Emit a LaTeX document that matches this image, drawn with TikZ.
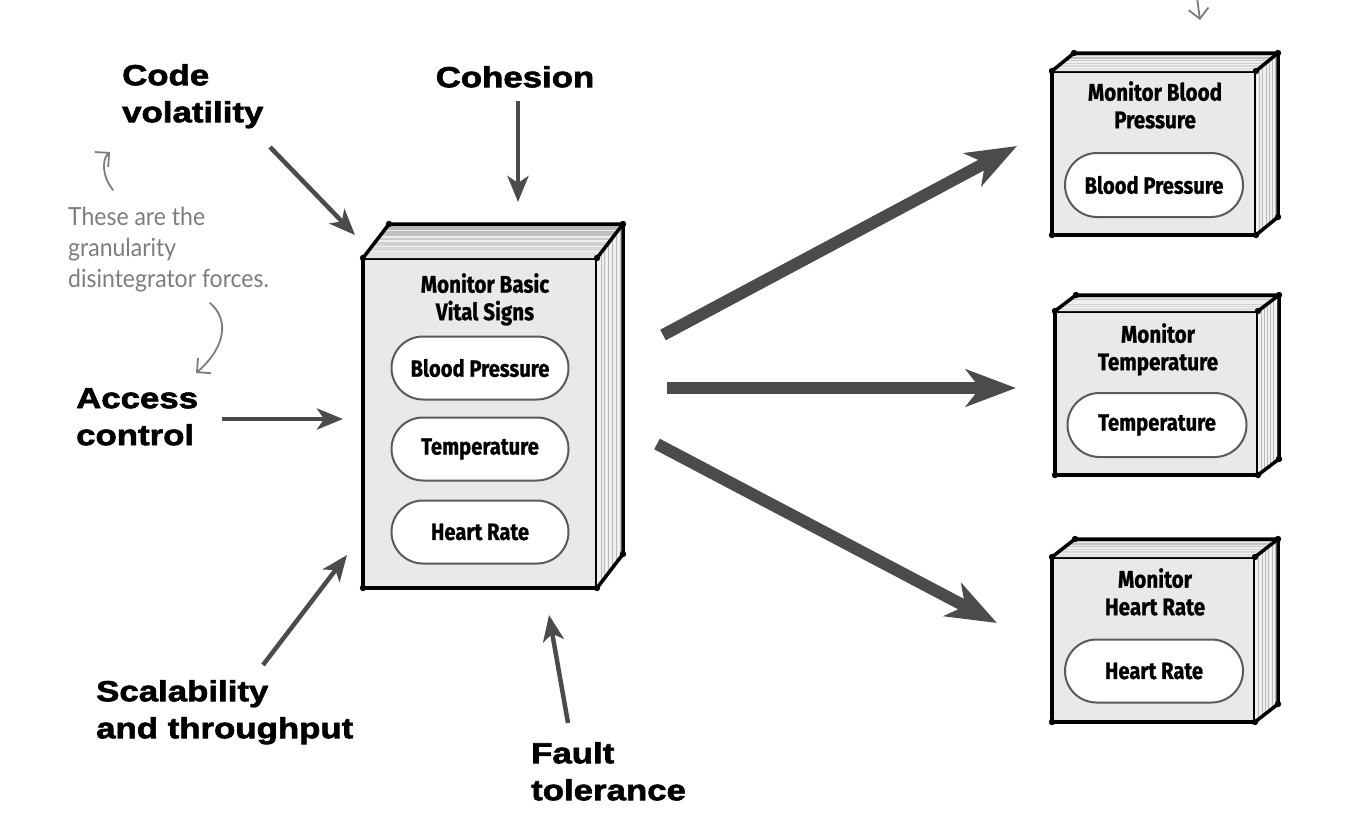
\documentclass[tikz,border=0pt]{standalone}
\usepackage{fontspec}
\setmainfont{Liberation Sans}
\newfontfamily\heavy{Liberation Sans}[FakeStretch=1.2,BoldFeatures={FakeBold=2.2}]
\newfontfamily\hand{Fira Sans}[FakeStretch=0.86,BoldFeatures={FakeBold=0.8}]
\newfontfamily\notefont{Lato}[FakeStretch=0.92]
\usetikzlibrary{arrows.meta,calc}
\definecolor{arrowgray}{HTML}{4B4B4D}
\definecolor{notegray}{HTML}{7D7D7D}
\definecolor{facegray}{HTML}{E9E9E9}
\definecolor{pillline}{HTML}{5A5A5A}
\tikzset{
  boxline/.style={draw=black,line width=3.5pt,line join=round},
  modfront/.style={boxline,fill=facegray,inner sep=0pt,outer sep=0pt},
  pill/.style={draw=pillline,line width=2pt,fill=white,inner sep=0pt,outer sep=0pt,
    font=\hand\bfseries\fontsize{23.5}{27}\selectfont},
  boxtitle/.style={font=\hand\bfseries\fontsize{24}{27.5}\selectfont,align=center,inner sep=0pt,anchor=north},
  lbl/.style={font=\heavy\bfseries\fontsize{29}{37}\selectfont,align=left,inner sep=0pt,anchor=north west},
  notetext/.style={font=\notefont\fontsize{25}{31}\selectfont,text=notegray,align=left,inner sep=0pt,anchor=north west},
  force/.style={draw=arrowgray,line width=4.5pt,-{Stealth[length=26pt,width=21pt,inset=7pt]}},
  splitarrow/.style={draw=arrowgray,line width=12pt,-{Stealth[length=50pt,width=37pt,inset=14pt]}},
  notearrow/.style={draw=notegray,line width=1.8pt,line cap=round,-{Straight Barb[length=10pt,width=20pt]}},
}
\newcommand{\modfaces}[3]{%
  \shade[top color=gray!60,bottom color=gray!18] (#1.north west) -- ++(#2,#3) -- ($(#1.north east)+(#2,#3)$) -- (#1.north east) -- cycle;
  \foreach \t in {0.2,0.35,0.5,0.62,0.8}{
    \draw[white,line width=1.2pt,opacity=0.7] ($(#1.north west)!\t!($(#1.north west)+(#2,#3)$)$) -- ($(#1.north east)!\t!($(#1.north east)+(#2,#3)$)$);
  }
  \fill[gray!12] (#1.north east) -- ++(#2,#3) -- ($(#1.south east)+(#2,#3)$) -- (#1.south east) -- cycle;
  \foreach \t in {0.15,0.3,0.45,0.6,0.75,0.9}{
    \draw[gray!55,line width=0.7pt] ($(#1.north east)!\t!($(#1.north east)+(#2,#3)$)$) -- ($(#1.south east)!\t!($(#1.south east)+(#2,#3)$)$);
  }
  \draw[boxline] (#1.north west) -- ++(#2,#3) -- ($(#1.north east)+(#2,#3)$) -- ($(#1.south east)+(#2,#3)$) -- (#1.south east);
  \draw[boxline] (#1.north east) -- ++(#2,#3);
  \foreach \c in {north west,north east,south west,south east}{\fill (#1.\c) circle (3.2pt);}
  \fill ($(#1.north west)+(#2,#3)$) circle (3.2pt);
  \fill ($(#1.north east)+(#2,#3)$) circle (3.2pt);
  \fill ($(#1.south east)+(#2,#3)$) circle (3.2pt);
}
\begin{document}
\begin{tikzpicture}[x=1pt,y=-1pt]
\fill[white] (0,0) rectangle (1346,820);
\useasboundingbox (0,0) rectangle (1346,820);

% main module
\node[modfront,minimum width=234pt,minimum height=330pt] (main) at (480,423) {};
\modfaces{main}{26}{-34}
\node[boxtitle] (maintitle) at (485,273) {Monitor Basic\\Vital Signs};
\node[pill,minimum width=177pt,minimum height=63pt,rounded corners=31.5pt] (mbp) at (480,368) {Blood Pressure};
\node[pill,minimum width=177pt,minimum height=63pt,rounded corners=31.5pt] (mtemp) at (480,449) {Temperature};
\node[pill,minimum width=177pt,minimum height=63pt,rounded corners=31.5pt] (mhr) at (480,532) {Heart Rate};

% blood pressure module
\node[modfront,minimum width=204pt,minimum height=164pt] (bp) at (1154,153) {};
\modfaces{bp}{22}{-18}
\node[boxtitle] (bptitle) at (1155,81) {Monitor Blood\\Pressure};
\node[pill,minimum width=178pt,minimum height=64pt,rounded corners=32pt] (bppill) at (1154,185) {Blood Pressure};

% temperature module
\node[modfront,minimum width=203pt,minimum height=164pt] (temp) at (1156.5,393) {};
\modfaces{temp}{21}{-16}
\node[boxtitle] (temptitle) at (1158,323) {Monitor\\Temperature};
\node[pill,minimum width=179pt,minimum height=64pt,rounded corners=32pt] (temppill) at (1157,425) {Temperature};

% heart rate module
\node[modfront,minimum width=203pt,minimum height=165pt] (hr) at (1153.5,639.5) {};
\modfaces{hr}{23}{-18}
\node[boxtitle] (hrtitle) at (1155,568) {Monitor\\Heart Rate};
\node[pill,minimum width=178pt,minimum height=63pt,rounded corners=31.5pt] (hrpill) at (1154,671) {Heart Rate};

% force labels
\node[lbl] (code) at (122,64) {Code\\volatility};
\node[lbl,anchor=north] (coh) at (515,66) {Cohesion};
\node[lbl] (acc) at (76,388) {Access\\control};
\node[lbl] (sca) at (96,680) {Scalability\\and throughput};
\node[lbl] (fault) at (531,742) {Fault\\tolerance};

% force arrow end points
\coordinate (cvS) at (270,147); \coordinate (cvE) at (355,235);
\coordinate (cohS) at (518,101); \coordinate (cohE) at (518,202);
\coordinate (accS) at (222,419); \coordinate (accE) at (343,419);
\coordinate (scaS) at (263,665); \coordinate (scaE) at (347,555);
\coordinate (ftS) at (568,723); \coordinate (ftE) at (549,615);
\draw[force] (cvS) -- (cvE);
\draw[force] (cohS) -- (cohE);
\draw[force] (accS) -- (accE);
\draw[force] (scaS) -- (scaE);
\draw[force] (ftS) -- (ftE);

% split arrows
\coordinate (s1S) at (663,335); \coordinate (s1E) at (1017,146);
\coordinate (s2S) at (667,388); \coordinate (s2E) at (1016,388);
\coordinate (s3S) at (657,444); \coordinate (s3E) at (997,623);
\draw[splitarrow] (s1S) -- (s1E);
\draw[splitarrow] (s2S) -- (s2E);
\draw[splitarrow] (s3S) -- (s3E);

% annotation
\node[notetext] (note) at (68,207) {These are the\\granularity\\disintegrator forces.};
\coordinate (nuS) at (113,190); \coordinate (nuE) at (110,152);
\draw[notearrow] (nuS) .. controls (103,178) and (101,160) .. (nuE);
\coordinate (ndS) at (210,303); \coordinate (ndE) at (196,373);
\draw[notearrow] (ndS) .. controls (230,320) and (225,348) .. (ndE);
\coordinate (trS) at (1196,-10); \coordinate (trE) at (1200,20);
\draw[notearrow] (trS) -- (trE);
\end{tikzpicture}
\end{document}
